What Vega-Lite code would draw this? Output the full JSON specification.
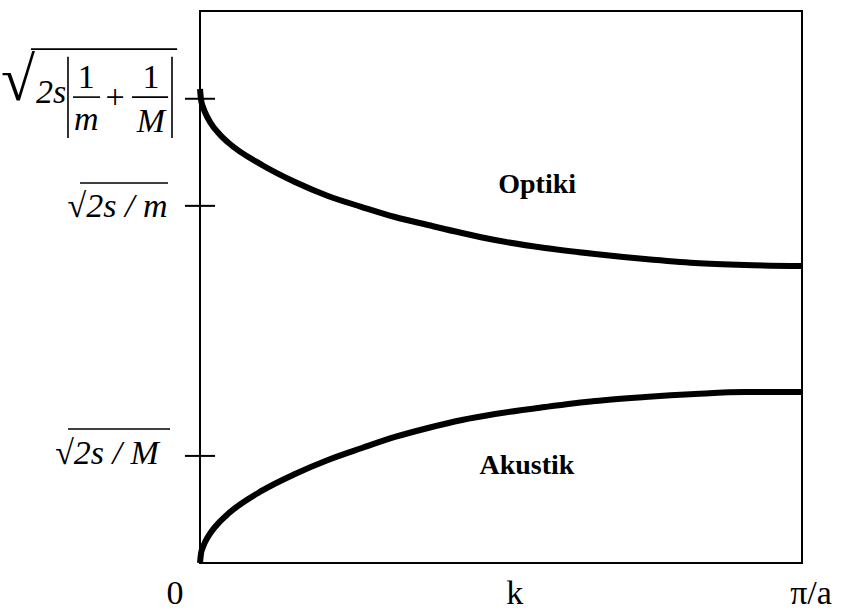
{
  "$schema": "https://vega.github.io/schema/vega-lite/v6.json",
  "width": 602,
  "height": 552,
  "autosize": {"type": "none"},
  "padding": {"left": 200, "top": 11, "right": 39, "bottom": 49},
  "background": "white",
  "config": {"view": {"stroke": "black", "strokeWidth": 2}},
  "datasets": {
    "curves": [
      {"branch": "optik", "k": 0, "w": 8.587},
      {"branch": "optik", "k": 0.00166, "w": 8.4},
      {"branch": "optik", "k": 0.00498, "w": 8.261},
      {"branch": "optik", "k": 0.0083, "w": 8.166},
      {"branch": "optik", "k": 0.0166, "w": 7.99},
      {"branch": "optik", "k": 0.0332, "w": 7.76},
      {"branch": "optik", "k": 0.0465, "w": 7.62},
      {"branch": "optik", "k": 0.103, "w": 7.21},
      {"branch": "optik", "k": 0.1578, "w": 6.902},
      {"branch": "optik", "k": 0.2126, "w": 6.649},
      {"branch": "optik", "k": 0.2691, "w": 6.449},
      {"branch": "optik", "k": 0.3239, "w": 6.268},
      {"branch": "optik", "k": 0.3787, "w": 6.123},
      {"branch": "optik", "k": 0.4352, "w": 5.978},
      {"branch": "optik", "k": 0.49, "w": 5.851},
      {"branch": "optik", "k": 0.5731, "w": 5.707},
      {"branch": "optik", "k": 0.6561, "w": 5.598},
      {"branch": "optik", "k": 0.7392, "w": 5.507},
      {"branch": "optik", "k": 0.8223, "w": 5.435},
      {"branch": "optik", "k": 0.9053, "w": 5.399},
      {"branch": "optik", "k": 1, "w": 5.38},
      {"branch": "akustik", "k": 0, "w": 0},
      {"branch": "akustik", "k": 0.00166, "w": 0.168},
      {"branch": "akustik", "k": 0.00498, "w": 0.291},
      {"branch": "akustik", "k": 0.0083, "w": 0.376},
      {"branch": "akustik", "k": 0.0166, "w": 0.532},
      {"branch": "akustik", "k": 0.0332, "w": 0.752},
      {"branch": "akustik", "k": 0.0465, "w": 0.89},
      {"branch": "akustik", "k": 0.103, "w": 1.31},
      {"branch": "akustik", "k": 0.1578, "w": 1.612},
      {"branch": "akustik", "k": 0.2126, "w": 1.866},
      {"branch": "akustik", "k": 0.2691, "w": 2.083},
      {"branch": "akustik", "k": 0.3239, "w": 2.283},
      {"branch": "akustik", "k": 0.3787, "w": 2.446},
      {"branch": "akustik", "k": 0.4352, "w": 2.591},
      {"branch": "akustik", "k": 0.49, "w": 2.699},
      {"branch": "akustik", "k": 0.5731, "w": 2.826},
      {"branch": "akustik", "k": 0.6561, "w": 2.935},
      {"branch": "akustik", "k": 0.7392, "w": 3.007},
      {"branch": "akustik", "k": 0.8223, "w": 3.062},
      {"branch": "akustik", "k": 0.9053, "w": 3.098},
      {"branch": "akustik", "k": 1, "w": 3.098}
    ],
    "yticks": [
      {"v": 8.41},
      {"v": 6.47},
      {"v": 1.94}
    ],
    "mathItalic": [
      {"lab": "2s", "pos": -0.2475, "h": 8.33},
      {"lab": "m", "pos": -0.189, "h": 7.844},
      {"lab": "M", "pos": -0.0814, "h": 7.81},
      {"lab": "√2s / m", "pos": -0.137, "h": 6.268},
      {"lab": "√2s / M", "pos": -0.1545, "h": 1.793}
    ],
    "mathUpright": [
      {"lab": "1", "pos": -0.189, "h": 8.605},
      {"lab": "1", "pos": -0.0814, "h": 8.605},
      {"lab": "+", "pos": -0.141, "h": 8.25}
    ],
    "mathRules": [
      {"x1": -0.2807, "x2": -0.038, "y1": 9.31, "y2": 9.31},
      {"x1": -0.211, "x2": -0.166, "y1": 8.44, "y2": 8.44},
      {"x1": -0.113, "x2": -0.053, "y1": 8.44, "y2": 8.44},
      {"x1": -0.1993, "x2": -0.0532, "y1": 6.884, "y2": 6.884},
      {"x1": -0.2193, "x2": -0.0498, "y1": 2.428, "y2": 2.428},
      {"x1": -0.2193, "x2": -0.2193, "y1": 9.17, "y2": 7.7},
      {"x1": -0.0465, "x2": -0.0465, "y1": 9.17, "y2": 7.7}
    ],
    "xlabels": [
      {"pos": -0.0415, "lab": "0"},
      {"pos": 0.523, "lab": "k"},
      {"pos": 1.015, "lab": "π/a"}
    ],
    "regions": [
      {"pos": 0.56, "h": 6.7, "lab": "Optiki"},
      {"pos": 0.543, "h": 1.61, "lab": "Akustik"}
    ]
  },
  "layer": [
    {
      "data": {"name": "curves"},
      "mark": {"type": "line", "color": "black", "strokeWidth": 6, "interpolate": "monotone", "strokeCap": "butt"},
      "encoding": {
        "x": {"field": "k", "type": "quantitative", "scale": {"domain": [0, 1], "nice": false}, "axis": null},
        "y": {"field": "w", "type": "quantitative", "scale": {"domain": [0, 10], "nice": false}, "axis": null},
        "detail": {"field": "branch"}
      }
    },
    {
      "data": {"name": "yticks"},
      "mark": {"type": "rule", "color": "black", "strokeWidth": 2},
      "encoding": {
        "x": {"datum": -0.025, "type": "quantitative"},
        "x2": {"datum": 0.025},
        "y": {"field": "v", "type": "quantitative"}
      }
    },
    {
      "data": {"name": "mathRules"},
      "mark": {"type": "rule", "color": "black", "strokeWidth": 1.6},
      "encoding": {
        "x": {"field": "x1", "type": "quantitative"},
        "x2": {"field": "x2"},
        "y": {"field": "y1", "type": "quantitative"},
        "y2": {"field": "y2"}
      }
    },
    {
      "data": {"values": [{"lab": "√"}]},
      "mark": {"type": "text", "align": "right", "baseline": "alphabetic", "font": "Liberation Serif", "fontSize": 62, "color": "black"},
      "encoding": {
        "x": {"datum": -0.2741, "type": "quantitative"},
        "y": {"datum": 8.38, "type": "quantitative"},
        "text": {"field": "lab"}
      }
    },
    {
      "data": {"name": "mathItalic"},
      "mark": {"type": "text", "align": "center", "baseline": "alphabetic", "font": "Liberation Serif", "fontStyle": "italic", "fontSize": 34, "color": "black"},
      "encoding": {
        "x": {"field": "pos", "type": "quantitative"},
        "y": {"field": "h", "type": "quantitative"},
        "text": {"field": "lab"}
      }
    },
    {
      "data": {"name": "mathUpright"},
      "mark": {"type": "text", "align": "center", "baseline": "alphabetic", "font": "Liberation Serif", "fontSize": 34, "color": "black"},
      "encoding": {
        "x": {"field": "pos", "type": "quantitative"},
        "y": {"field": "h", "type": "quantitative"},
        "text": {"field": "lab"}
      }
    },
    {
      "data": {"name": "xlabels"},
      "mark": {"type": "text", "align": "center", "baseline": "alphabetic", "font": "Liberation Serif", "fontSize": 34, "color": "black"},
      "encoding": {
        "x": {"field": "pos", "type": "quantitative"},
        "y": {"datum": -0.743, "type": "quantitative"},
        "text": {"field": "lab"}
      }
    },
    {
      "data": {"name": "regions"},
      "mark": {"type": "text", "align": "center", "baseline": "alphabetic", "font": "Liberation Serif", "fontWeight": "bold", "fontSize": 28, "color": "black"},
      "encoding": {
        "x": {"field": "pos", "type": "quantitative"},
        "y": {"field": "h", "type": "quantitative"},
        "text": {"field": "lab"}
      }
    }
  ]
}
